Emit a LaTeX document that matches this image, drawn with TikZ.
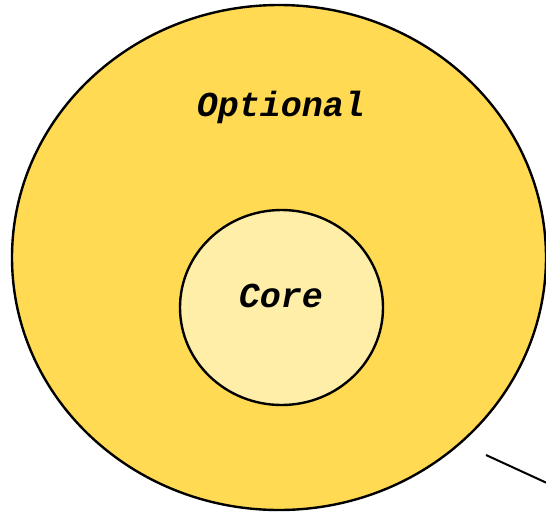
\documentclass[tikz,border=0pt]{standalone}
\usepackage{fontspec}
\setmonofont{Liberation Mono}
\usepackage{tikz}
\usepackage{xcolor}
\usetikzlibrary{shapes.geometric, positioning, calc}
\definecolor{outeryellow}{RGB}{255,218,82}
\definecolor{inneryellow}{RGB}{255,238,168}

\begin{document}
\begin{tikzpicture}[
    x=1pt, y=-1pt,
    ring/.style={
        ellipse,
        draw=black,
        line width=2.4pt,
        inner sep=0pt
    },
    label/.style={font=\fontsize{35}{40}\selectfont\ttfamily\bfseries\itshape},
    line/.style={line width=2pt, black}
]
\useasboundingbox (0,0) rectangle (546,515);

% ========== outer and inner rings ==========
\node[ring, fill=outeryellow, minimum width=534pt, minimum height=505pt] (optional) at (279,257.5) {};
\node[ring, fill=inneryellow, minimum width=203pt, minimum height=195pt] (core) at (281.5,307.5) {};

% ========== labels ==========
\node[label] (optionaltext) at (281,107) {Optional};
\node[label] (coretext) at (281,296) {Core};

% ========== loose line at the bottom right ==========
\coordinate (linestart) at (486,455);
\coordinate (lineend) at (560,489);
\draw[line] (linestart) -- (lineend);

\end{tikzpicture}
\end{document}
